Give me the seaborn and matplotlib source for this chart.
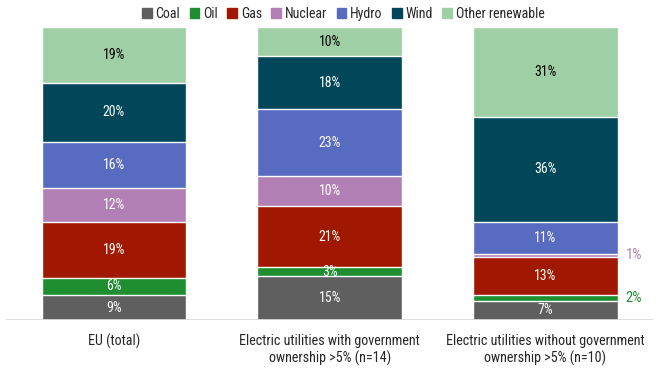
import pandas as pd
import numpy as np
import seaborn as sns
import matplotlib.pyplot as plt

# Share of generation by source (%)
groups = ['EU (total)',
          'Electric utilities with government\nownership >5% (n=14)',
          'Electric utilities without government\nownership >5% (n=10)']
sources = ['Coal', 'Oil', 'Gas', 'Nuclear', 'Hydro', 'Wind', 'Other renewable']
coal = [8.6, 15.0, 6.6]
oil = [5.8, 3.0, 2.0]
gas = [19.0, 21.0, 13.0]
nuclear = [11.7, 10.0, 1.0]
hydro = [15.7, 23.0, 11.0]
wind = [20.1, 18.0, 35.6]
other = [19.1, 10.0, 30.8]

colors = ['#5f5f5f', '#1e8e30', '#a11800', '#b27fb5', '#576bc0', '#024659', '#9fcfa4']
label_colors = ['white'] * 6 + ['black']

sns.set_style('white')
plt.rcParams['font.family'] = ['Roboto Condensed', 'Roboto', 'DejaVu Sans']

values = np.array([coal, oil, gas, nuclear, hydro, wind, other])
tops = values.cumsum(axis=0)

rows = []
for i, src in enumerate(sources):
    for j, g in enumerate(groups):
        rows.append({'group': g, 'source': src, 'value': values[i, j],
                     'top': tops[i, j], 'bottom': tops[i, j] - values[i, j]})
df = pd.DataFrame(rows)

fig = plt.figure(figsize=(6.6, 3.68), dpi=100)
ax = fig.add_axes([0.009, 0.130, 0.981, 0.797])

# draw from the top segment down so each bar covers the one above it
for i in reversed(range(len(sources))):
    sub = df[df['source'] == sources[i]]
    sns.barplot(data=sub, x='group', y='top', color=colors[i], width=0.67,
                saturation=1, ax=ax, label=None, order=groups)

for i, src in enumerate(sources):
    sub = df[df['source'] == src]
    for j, (_, r) in enumerate(sub.iterrows()):
        mid = (r['top'] + r['bottom']) / 2
        if r['value'] < 2.5:
            ax.text(j + 0.37, mid, f"{r['value']:.0f}%", ha='left', va='center',
                    fontsize=10.5, color=colors[i])
        else:
            ax.text(j, mid, f"{r['value']:.0f}%", ha='center', va='center',
                    fontsize=10, color=label_colors[i])

ax.axhline(0, color='#d9d9d9', lw=2)
ax.set_xlim(-0.5, 2.5)
ax.set_ylim(0, 100)
ax.set_yticks([])
ax.set_xlabel('')
ax.set_ylabel('')
ax.tick_params(axis='x', length=0, pad=10, labelsize=10.2)
sns.despine(ax=ax, left=True, bottom=True)

handles = [plt.Rectangle((0, 0), 1, 1, color=c) for c in colors]
fig.legend(handles, sources, loc='upper center', bbox_to_anchor=(0.52, 1.015),
           ncol=7, frameon=False, fontsize=10, handlelength=0.7, handleheight=0.7,
           columnspacing=0.7, handletextpad=0.25)

plt.savefig('out.png', dpi=100)
